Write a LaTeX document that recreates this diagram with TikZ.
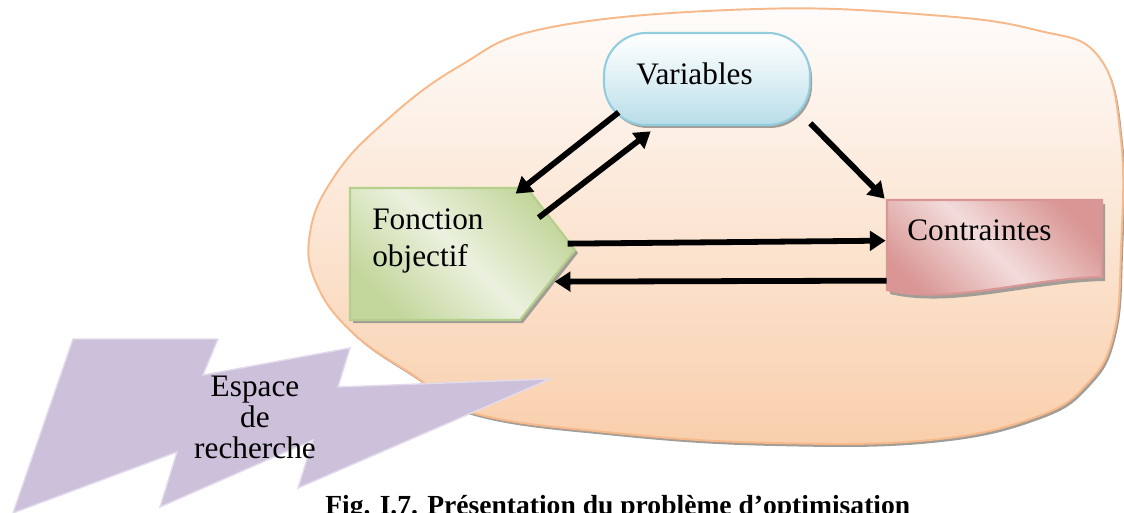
\documentclass[tikz,border=0pt]{standalone}
\usepackage{fontspec}
\setmainfont{Liberation Serif}
\usetikzlibrary{arrows.meta,fit,calc}
\definecolor{blobTop}{HTML}{FEFCFB}
\definecolor{blobBot}{HTML}{F9CFAC}
\definecolor{blobLine}{HTML}{F7B88A}
\definecolor{varBot}{HTML}{B7DDE8}
\definecolor{varLine}{HTML}{93CDDD}
\definecolor{grD}{HTML}{C3D69B}
\definecolor{grL}{HTML}{EBF1DE}
\definecolor{grLine}{HTML}{B5CF8C}
\definecolor{pkD}{HTML}{D99694}
\definecolor{pkL}{HTML}{F2DCDB}
\definecolor{pkLine}{HTML}{D99694}
\definecolor{boltFill}{HTML}{CCC0DA}
\definecolor{boltLine}{HTML}{E2DBEB}
\definecolor{shad}{HTML}{A39D97}
\begin{document}
\begin{tikzpicture}[x=0.02cm,y=-0.02cm,
  conn/.style={line width=3.3pt,-{Triangle[length=9pt,width=11pt]}},
  lbl/.style={font=\fontsize{17.8}{21}\selectfont, inner sep=0},
  area/.style={inner sep=0, draw=none}]
\useasboundingbox (0,0) rectangle (1124,513);

% search-space blob
\fill[shad, shift={(2,3)}] plot[smooth cycle, tension=0.7] coordinates {(757,9) (930,15) (1036,30) (1099,57) (1121,140) (1121,250) (1114,333) (1088,383) (1036,417) (930,440) (773,443) (615,433) (473,413) (416,377) (353,333) (316,283) (310,233) (332,180) (379,127) (458,67) (552,27)};
\shade[top color=blobTop, bottom color=blobBot] plot[smooth cycle, tension=0.7] coordinates {(757,9) (930,15) (1036,30) (1099,57) (1121,140) (1121,250) (1114,333) (1088,383) (1036,417) (930,440) (773,443) (615,433) (473,413) (416,377) (353,333) (316,283) (310,233) (332,180) (379,127) (458,67) (552,27)};
\draw[blobLine, line width=1.1pt] plot[smooth cycle, tension=0.7] coordinates {(757,9) (930,15) (1036,30) (1099,57) (1121,140) (1121,250) (1114,333) (1088,383) (1036,417) (930,440) (773,443) (615,433) (473,413) (416,377) (353,333) (316,283) (310,233) (332,180) (379,127) (458,67) (552,27)};

% Variables
\fill[shad, rounded corners=24pt] (606,36) rectangle (812,128);
\shade[top color=white, bottom color=varBot, middle color=varBot!45, rounded corners=24pt] (604,33) rectangle (810,125);
\draw[varLine, line width=1.2pt, rounded corners=24pt] (604,33) rectangle (810,125);
\node[area, fit={(604,33) (810,125)}] (var) {};
\node[lbl, anchor=base west] (varT) at (636,85) {Variables};

% Fonction objectif
\fill[shad] (353,191) -- (530,191) -- (578,253) -- (523,323) -- (353,323) -- cycle;
\shade[shading=axis, top color=grD, bottom color=grD, middle color=grL, shading angle=135] (350,188) -- (527,188) -- (575,250) -- (520,320) -- (350,320) -- cycle;
\draw[grLine, line width=1.2pt] (350,188) -- (527,188) -- (575,250) -- (520,320) -- (350,320) -- cycle;
\node[area, fit={(350,188) (575,320)}] (fo) {};
\node[lbl, anchor=base west] (foT1) at (372,229) {Fonction};
\node[lbl, anchor=base west] (foT2) at (372,266) {objectif};

% Contraintes
\fill[shad, shift={(3,4)}] (887,200) -- (1102,200) -- (1102,277) .. controls (1030,278) and (950,305) .. (887,290) -- cycle;
\shade[shading=axis, top color=pkD, bottom color=pkD, middle color=pkL, shading angle=135] (887,200) -- (1102,200) -- (1102,277) .. controls (1030,278) and (950,305) .. (887,290) -- cycle;
\draw[pkLine, line width=1.2pt] (887,200) -- (1102,200) -- (1102,277) .. controls (1030,278) and (950,305) .. (887,290) -- cycle;
\node[area, fit={(887,200) (1102,295)}] (co) {};
\node[lbl, anchor=base west] (coT) at (907,240) {Contraintes};

% connectors
\draw[conn] ($(var.south west)+(15,-13)$) -- ($(fo.north west)+(166,6)$);
\draw[conn] ($(fo.north west)+(189,30)$) -- ($(var.south west)+(47,6)$);
\draw[conn] ($(var.south east)+(0,-2)$) -- ($(co.north west)+(-2,-1)$);
\draw[conn] ($(fo.north west)+(218,56)$) -- ($(co.north west)+(-1,41)$);
\draw[conn] ($(co.north west)+(0,81)$) -- ($(fo.north west)+(205,94)$);

% lightning bolt
\filldraw[fill=boltFill, draw=boltLine, line width=0.8pt] (73,339) -- (218,339) -- (203,375) -- (350,348) -- (338,387) -- (550,379) -- (298,488) -- (313,440) -- (160,507) -- (177,452) -- (13,513) -- cycle;
\node[lbl, anchor=base] (esp1) at (255,396) {Espace};
\node[lbl, anchor=base] (esp2) at (255,427) {de};
\node[lbl, anchor=base] (esp3) at (255,458) {recherche};

% caption
\node[anchor=base west, inner sep=0, font=\bfseries\fontsize{15.7}{18}\selectfont] (cap) at (325,514) {Fig. I.7. Présentation du problème d’optimisation};
\end{tikzpicture}
\end{document}
